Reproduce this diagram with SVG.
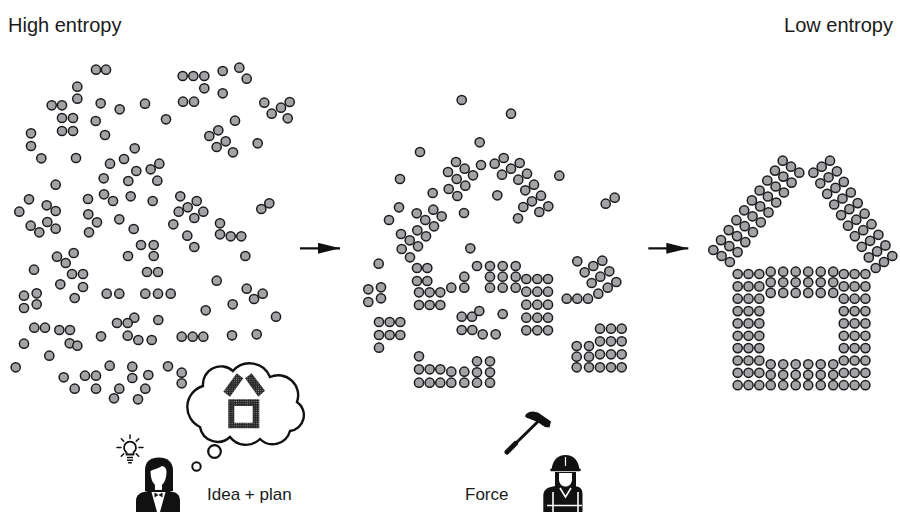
<svg xmlns="http://www.w3.org/2000/svg" xmlns:xlink="http://www.w3.org/1999/xlink" width="900" height="512" viewBox="0 0 900 512">
<style>
.d{fill:#a3a3a7;stroke:#1c1c1c;stroke-width:1.5}
.t{font-family:"Liberation Sans",Arial,sans-serif;fill:#1a1a1a}
.title{font-size:20px}
.lbl{font-size:17px}
.ink{fill:#111}
.arrow{stroke:#111;stroke-width:2.2;fill:none}
</style>
<defs>
  <circle id="p" class="d" r="4.6"/>
  <g id="h3"><use href="#p" x="0"/><use href="#p" x="10.8"/><use href="#p" x="21.6"/></g>
  <g id="h6"><use href="#p" x="0"/><use href="#p" x="12.5"/><use href="#p" x="25"/><use href="#p" x="37.5"/><use href="#p" x="50"/><use href="#p" x="62.5"/></g>
  <g id="rl"><use href="#p" x="0" y="0"/><use href="#p" x="8.3" y="6"/><use href="#p" x="16.6" y="12"/></g>
  <g id="rr"><use href="#p" x="0" y="0"/><use href="#p" x="-8.3" y="6"/><use href="#p" x="-16.6" y="12"/></g>
  <pattern id="grain" width="2.2" height="2.2" patternUnits="userSpaceOnUse">
    <rect width="2.2" height="2.2" fill="#262626"/>
    <circle cx="1.1" cy="1.1" r="0.55" fill="#8a8a8a"/>
  </pattern>
  <marker id="head" markerUnits="userSpaceOnUse" markerWidth="22" markerHeight="11" refX="22" refY="5.5" orient="auto">
    <path d="M0,0 L22,5.5 L0,11 Z" fill="#111"/>
  </marker>
</defs>

<!-- headings -->
<g id="title-high"><text class="t title" x="8" y="32">High entropy</text></g>
<g id="title-low"><text class="t title" x="893" y="32" text-anchor="end">Low entropy</text></g>

<!-- scattered particles -->
<g id="disorder">
<use href="#p" x="96" y="69.7"/><use href="#p" x="106" y="69.7"/><use href="#p" x="182.7" y="76"/><use href="#p" x="193.3" y="76"/><use href="#p" x="204.3" y="76"/>
<use href="#p" x="222.7" y="71"/><use href="#p" x="239.3" y="67.7"/><use href="#p" x="246.7" y="78.7"/><use href="#p" x="77.3" y="86.7"/><use href="#p" x="204.3" y="88.3"/>
<use href="#p" x="222.7" y="93.3"/><use href="#p" x="77.3" y="98.7"/><use href="#p" x="51.7" y="105.3"/><use href="#p" x="62" y="105.3"/><use href="#p" x="100.7" y="103.3"/>
<use href="#p" x="119.7" y="109.3"/><use href="#p" x="145" y="103.7"/><use href="#p" x="183" y="101.7"/><use href="#p" x="194" y="101.7"/><use href="#p" x="264.3" y="102.7"/>
<use href="#p" x="281" y="107.7"/><use href="#p" x="289.7" y="102"/><use href="#p" x="271.7" y="113.7"/><use href="#p" x="287.7" y="118.3"/><use href="#p" x="62" y="118"/>
<use href="#p" x="73" y="118"/><use href="#p" x="95.7" y="121"/><use href="#p" x="166" y="119.3"/><use href="#p" x="235" y="120.7"/><use href="#p" x="62" y="131"/>
<use href="#p" x="73" y="131"/><use href="#p" x="31" y="133.3"/><use href="#p" x="105" y="135"/><use href="#p" x="218.3" y="130.3"/><use href="#p" x="209.3" y="136"/>
<use href="#p" x="225.7" y="141.3"/><use href="#p" x="216.7" y="147"/><use href="#p" x="233" y="152.3"/><use href="#p" x="257.7" y="143.3"/><use href="#p" x="31" y="146"/>
<use href="#p" x="41.3" y="158.3"/><use href="#p" x="76" y="158"/><use href="#p" x="134.7" y="148.3"/><use href="#p" x="124" y="159"/><use href="#p" x="110" y="163.7"/>
<use href="#p" x="136.3" y="171"/><use href="#p" x="150.7" y="169.3"/><use href="#p" x="159.3" y="163.7"/><use href="#p" x="103.7" y="178.3"/><use href="#p" x="128.3" y="181"/>
<use href="#p" x="157.3" y="180.7"/><use href="#p" x="55.7" y="184.7"/><use href="#p" x="29" y="199.3"/><use href="#p" x="46.7" y="205.3"/><use href="#p" x="55.7" y="211"/>
<use href="#p" x="19.3" y="211.7"/><use href="#p" x="88" y="199"/><use href="#p" x="104" y="194.3"/><use href="#p" x="113" y="201"/><use href="#p" x="130.7" y="196.3"/>
<use href="#p" x="152.7" y="201"/><use href="#p" x="180.3" y="196.3"/><use href="#p" x="196.7" y="201"/><use href="#p" x="187.7" y="207.3"/><use href="#p" x="178.7" y="211.7"/>
<use href="#p" x="203.3" y="211.7"/><use href="#p" x="269.3" y="203.3"/><use href="#p" x="261.3" y="209"/><use href="#p" x="88.3" y="214.3"/>
<use href="#p" x="30.7" y="225.7"/><use href="#p" x="39.3" y="232.3"/><use href="#p" x="47.3" y="222"/><use href="#p" x="55.7" y="228.7"/><use href="#p" x="97" y="222.3"/>
<use href="#p" x="89" y="232.3"/><use href="#p" x="119.3" y="219.3"/><use href="#p" x="133.7" y="229"/><use href="#p" x="173.3" y="224.3"/><use href="#p" x="194.3" y="218"/>
<use href="#p" x="187.3" y="235.7"/><use href="#p" x="194.3" y="247"/><use href="#p" x="220" y="223.3"/><use href="#p" x="220" y="234.3"/><use href="#p" x="230.7" y="236.3"/>
<use href="#p" x="241.3" y="236.3"/><use href="#p" x="141" y="245"/><use href="#p" x="153.7" y="245"/><use href="#p" x="153.7" y="256"/><use href="#p" x="128" y="256"/>
<use href="#p" x="57" y="256.7"/><use href="#p" x="73.7" y="253"/><use href="#p" x="65.7" y="263"/><use href="#p" x="245.3" y="256"/><use href="#p" x="34" y="269.7"/>
<use href="#p" x="72" y="274"/><use href="#p" x="83" y="274"/><use href="#p" x="83" y="287"/><use href="#p" x="74.7" y="298"/><use href="#p" x="60.3" y="284.3"/>
<use href="#p" x="147" y="272"/><use href="#p" x="158" y="272"/><use href="#p" x="216.7" y="280.7"/><use href="#p" x="24" y="295.7"/><use href="#p" x="36.7" y="293.3"/>
<use href="#p" x="36.7" y="304.3"/><use href="#p" x="24" y="308"/><use href="#p" x="106.7" y="293.7"/><use href="#p" x="119.3" y="293.7"/><use href="#p" x="145.3" y="293.7"/>
<use href="#p" x="158" y="293.7"/><use href="#p" x="170.7" y="293.7"/><use href="#p" x="246.7" y="288.7"/><use href="#p" x="262.7" y="293.7"/><use href="#p" x="254" y="299"/>
<use href="#p" x="232.7" y="304.3"/><use href="#p" x="205.7" y="310.3"/><use href="#p" x="276" y="316.7"/><use href="#p" x="134.3" y="317.7"/><use href="#p" x="127.7" y="323"/>
<use href="#p" x="117" y="323"/><use href="#p" x="158.3" y="320"/><use href="#p" x="34.3" y="327.7"/><use href="#p" x="45" y="327.7"/><use href="#p" x="59.3" y="330"/>
<use href="#p" x="70" y="330"/><use href="#p" x="69.7" y="343.3"/><use href="#p" x="77.3" y="345.7"/><use href="#p" x="101" y="336.3"/><use href="#p" x="127.7" y="335.7"/>
<use href="#p" x="138.3" y="340"/><use href="#p" x="151.7" y="340"/><use href="#p" x="181.7" y="336.7"/><use href="#p" x="192.7" y="336.7"/><use href="#p" x="203.3" y="336.7"/>
<use href="#p" x="232" y="335.3"/><use href="#p" x="256.7" y="334.3"/><use href="#p" x="24" y="343.7"/><use href="#p" x="49.3" y="355.7"/><use href="#p" x="15.7" y="367.3"/>
<use href="#p" x="109.7" y="365.7"/><use href="#p" x="132.3" y="366.7"/><use href="#p" x="132.3" y="378"/><use href="#p" x="168" y="366.3"/><use href="#p" x="181.7" y="372.7"/>
<use href="#p" x="181.7" y="383.3"/><use href="#p" x="148.3" y="375"/><use href="#p" x="63.7" y="377.3"/><use href="#p" x="85" y="375.7"/><use href="#p" x="96" y="375.7"/>
<use href="#p" x="74.7" y="388.7"/><use href="#p" x="96" y="388.7"/><use href="#p" x="119.3" y="388.7"/><use href="#p" x="145.3" y="388.7"/><use href="#p" x="114" y="398.3"/>
<use href="#p" x="138" y="399.3"/>
</g>

<!-- person with an idea and a plan -->
<g id="thinker">
  <path d="M200,427 A22,22 0 0 1 203,386 A18,18 0 0 1 233,371 A22,22 0 0 1 270,377 A20,20 0 0 1 297,402 A16,16 0 0 1 290,431 A18,18 0 0 1 260,439 A20,20 0 0 1 230,437 A18,18 0 0 1 200,427 Z" fill="#fff" stroke="#111" stroke-width="2.4"/>
  <polygon points="223.3,391.7 230,396.7 243.3,378.3 236.7,373.3" fill="url(#grain)"/>
  <polygon points="245,378.3 251.7,373.3 265,390.7 258.3,396.7" fill="url(#grain)"/>
  <path d="M228.3,399.3 H259.3 V428.3 H228.3 Z M234.3,406 V422.7 H252.7 V406 Z" fill="url(#grain)" fill-rule="evenodd"/>
  <circle cx="214.5" cy="451.5" r="6.3" fill="#fff" stroke="#111" stroke-width="2.2"/>
  <circle cx="196.5" cy="466.5" r="4.2" fill="#fff" stroke="#111" stroke-width="2"/>
  <!-- light bulb -->
  <path d="M126.5,454.5 V452.5 A6,6 0 1 1 133.5,452.5 V454.5 Z" fill="#fff" stroke="#111" stroke-width="1.8" stroke-linejoin="round"/>
  <path d="M127,457.6 H133 M127,460.2 H133 M128.2,462.8 H131.8" stroke="#111" stroke-width="1.5"/>
  <g stroke="#111" stroke-width="1.5" stroke-linecap="round">
    <line x1="130" y1="438.5" x2="130" y2="435"/>
    <line x1="121" y1="447.5" x2="117" y2="447.5"/>
    <line x1="139" y1="447.5" x2="143" y2="447.5"/>
    <line x1="123.8" y1="441.3" x2="121.3" y2="438.8"/>
    <line x1="136.2" y1="441.3" x2="138.7" y2="438.8"/>
    <line x1="123.8" y1="453.7" x2="121.3" y2="456.2"/>
    <line x1="136.2" y1="453.7" x2="138.7" y2="456.2"/>
  </g>
  <!-- woman -->
  <path d="M145,491 V470 C145,461 151,457.5 159,457.5 C167,457.5 173,462 173,470 V491 Z" class="ink"/>
  <path d="M136,512 V501 C136,495 140,492.5 146,491.5 L153,489.5 H164 L171,491.5 C177,492.5 180,495 180,501 V512 Z" class="ink"/>
  <rect x="154.3" y="481" width="8.4" height="9.5" fill="#fff" stroke="#111" stroke-width="1.2"/>
  <path d="M150.5,471 C150.5,480.5 154,486 158.5,486 C163,486 166.5,480.5 166.5,471.5 C166.5,468 164.5,466.5 162,466 C158.5,468.5 154,469 150.5,471 Z" fill="#fff"/>
  <path d="M151.5,492 H165.5 L160,512 H157 Z" fill="#fff"/>
  <path d="M154.5,492.5 L158.5,495 L162.5,492.5 V497.5 L158.5,495 L154.5,497.5 Z" class="ink"/>
  <text class="t lbl" x="207" y="499.5">Idea + plan</text>
</g>

<!-- particles partly ordered -->
<g id="partial">
<use href="#p" x="461.7" y="100"/><use href="#p" x="511" y="113.7"/><use href="#p" x="479.7" y="142.3"/><use href="#p" x="420" y="152"/><use href="#p" x="559.3" y="175.7"/>
<use href="#p" x="400" y="179"/><use href="#p" x="456" y="162"/><use href="#p" x="464.7" y="168.7"/><use href="#p" x="473" y="175.3"/><use href="#p" x="448" y="172"/>
<use href="#p" x="456.7" y="179"/><use href="#p" x="465.3" y="185.7"/><use href="#p" x="448.7" y="189"/><use href="#p" x="457.3" y="196"/><use href="#p" x="481" y="165"/>
<use href="#p" x="494.7" y="163.7"/><use href="#p" x="503.7" y="158"/><use href="#p" x="511" y="168.7"/><use href="#p" x="519.7" y="163"/><use href="#p" x="502" y="174.7"/>
<use href="#p" x="518.3" y="179.7"/><use href="#p" x="527" y="173.7"/><use href="#p" x="525.3" y="190.3"/><use href="#p" x="534" y="184.7"/><use href="#p" x="532" y="201.3"/>
<use href="#p" x="541" y="195.7"/><use href="#p" x="523.3" y="207"/><use href="#p" x="539.3" y="212"/><use href="#p" x="548.3" y="206.3"/><use href="#p" x="518" y="218.3"/>
<use href="#p" x="497.3" y="195.3"/><use href="#p" x="464" y="213"/><use href="#p" x="432.7" y="193"/><use href="#p" x="399" y="207.3"/><use href="#p" x="389" y="220"/>
<use href="#p" x="416.7" y="213.3"/><use href="#p" x="425.3" y="220"/><use href="#p" x="433.3" y="209.7"/><use href="#p" x="441.7" y="216.3"/><use href="#p" x="434" y="226.3"/>
<use href="#p" x="417.3" y="230.3"/><use href="#p" x="426" y="236.3"/><use href="#p" x="401" y="234"/><use href="#p" x="409.7" y="240.3"/><use href="#p" x="418" y="246.3"/>
<use href="#p" x="401.7" y="249"/><use href="#p" x="470.3" y="248.3"/><use href="#p" x="605.7" y="203.7"/><use href="#p" x="614.7" y="197.7"/>
<use href="#p" x="410" y="257.3"/><use href="#p" x="378.7" y="263.7"/><use href="#p" x="417" y="268"/><use href="#p" x="427.3" y="268"/><use href="#p" x="417" y="281"/>
<use href="#p" x="427.3" y="281"/><use href="#p" x="419" y="292.3"/><use href="#p" x="429.7" y="292.3"/><use href="#p" x="440.3" y="292.3"/><use href="#p" x="419" y="305"/>
<use href="#p" x="429.7" y="305"/><use href="#p" x="440.3" y="305"/><use href="#p" x="451.3" y="287.7"/><use href="#p" x="464.3" y="276.7"/><use href="#p" x="464.3" y="287.7"/>
<use href="#p" x="477" y="266"/><use href="#p" x="490" y="266"/><use href="#p" x="502.7" y="266"/><use href="#p" x="515.7" y="266"/><use href="#p" x="490" y="276.7"/>
<use href="#p" x="502.7" y="276.7"/><use href="#p" x="515.7" y="276.7"/><use href="#p" x="490" y="287.7"/><use href="#p" x="502.7" y="287.7"/><use href="#p" x="515.7" y="287.7"/>
<use href="#p" x="526.3" y="279"/><use href="#p" x="537.3" y="279"/><use href="#p" x="548" y="279"/><use href="#p" x="526.3" y="291.7"/><use href="#p" x="537.3" y="291.7"/>
<use href="#p" x="548" y="291.7"/><use href="#p" x="526.3" y="304.7"/><use href="#p" x="537.3" y="304.7"/><use href="#p" x="548" y="304.7"/><use href="#p" x="526.3" y="317.7"/>
<use href="#p" x="537.3" y="317.7"/><use href="#p" x="548" y="317.7"/><use href="#p" x="526.3" y="330.3"/><use href="#p" x="537.3" y="330.3"/><use href="#p" x="548" y="330.3"/>
<use href="#p" x="368.3" y="289.3"/><use href="#p" x="381" y="287.3"/><use href="#p" x="368.3" y="302"/><use href="#p" x="381" y="298.3"/><use href="#p" x="379" y="322"/>
<use href="#p" x="389.7" y="322"/><use href="#p" x="400.3" y="322"/><use href="#p" x="379" y="335"/><use href="#p" x="389.7" y="335"/><use href="#p" x="400.3" y="335"/>
<use href="#p" x="379" y="347.7"/><use href="#p" x="461.7" y="316.7"/><use href="#p" x="472" y="316.7"/><use href="#p" x="479.3" y="311"/><use href="#p" x="502.7" y="314"/>
<use href="#p" x="461.7" y="330"/><use href="#p" x="472.3" y="330"/><use href="#p" x="482.7" y="334.3"/><use href="#p" x="495.7" y="334.3"/><use href="#p" x="419" y="356.3"/>
<use href="#p" x="419" y="369.3"/><use href="#p" x="429.7" y="369.3"/><use href="#p" x="440.3" y="369.3"/><use href="#p" x="451.3" y="371.7"/><use href="#p" x="464.3" y="371.7"/>
<use href="#p" x="477" y="361.3"/><use href="#p" x="490" y="361.3"/><use href="#p" x="477" y="372.3"/><use href="#p" x="490" y="372.3"/><use href="#p" x="419" y="382.7"/>
<use href="#p" x="429.7" y="382.7"/><use href="#p" x="440.3" y="382.7"/><use href="#p" x="451.3" y="382.7"/><use href="#p" x="464.3" y="382.7"/><use href="#p" x="477" y="382.7"/>
<use href="#p" x="490" y="382.7"/>
<use href="#p" x="577.3" y="261.3"/><use href="#p" x="593.3" y="266"/><use href="#p" x="602.3" y="260.7"/><use href="#p" x="584.7" y="272.3"/><use href="#p" x="600.3" y="276.7"/>
<use href="#p" x="609.3" y="271.3"/><use href="#p" x="591.7" y="283"/><use href="#p" x="607.7" y="287.7"/><use href="#p" x="616.3" y="282"/><use href="#p" x="598.3" y="293.7"/>
<use href="#p" x="566.7" y="298.7"/><use href="#p" x="577.3" y="298.7"/><use href="#p" x="588" y="298.7"/>
<use href="#p" x="600" y="328.7"/><use href="#p" x="611" y="328.7"/><use href="#p" x="621.7" y="328.7"/><use href="#p" x="600" y="341.3"/><use href="#p" x="611" y="341.3"/>
<use href="#p" x="621.7" y="341.3"/><use href="#p" x="576.7" y="346"/><use href="#p" x="589" y="346"/><use href="#p" x="576.7" y="356.7"/><use href="#p" x="589" y="356.7"/>
<use href="#p" x="600" y="354.3"/><use href="#p" x="611" y="354.3"/><use href="#p" x="621.7" y="354.3"/><use href="#p" x="576.7" y="367.3"/><use href="#p" x="589" y="367.3"/>
<use href="#p" x="600" y="367.3"/><use href="#p" x="611" y="367.3"/><use href="#p" x="621.7" y="367.3"/>
</g>

<!-- worker with hammer -->
<g id="builder">
  <line x1="538" y1="421.5" x2="512" y2="447" stroke="#111" stroke-width="3"/>
  <line x1="515.5" y1="443.5" x2="507" y2="452" stroke="#111" stroke-width="5" stroke-linecap="round"/>
  <path d="M525,416 C526,413 529,411.5 533,411.5 L538,412.5 L551,421.5 L549.5,427.5 L545,427 L537.5,422 L530,419 C528,418 526.5,418.5 525,416 Z" class="ink"/>
  <path d="M543.3,512 V496 C543.3,490 547,487.5 553,486.5 L559,485 H572 L577,486.5 C582,487.5 582.5,491 582.5,496 V512 Z" class="ink"/>
  <path d="M555,487 V472 H576 V487 Z" class="ink"/>
  <path d="M559,473 H572 V479 C572,484 569,486.5 565.5,486.5 C562,486.5 559,484 559,479 Z" fill="#fff"/>
  <path d="M551.7,469.5 C552,461 557.5,455 565.5,455 C573.5,455 579,461 579.3,469.5 Z" class="ink"/>
  <rect x="550.3" y="468.6" width="30.4" height="2.6" rx="1" class="ink"/>
  <line x1="565.5" y1="457" x2="565.5" y2="466" stroke="#fff" stroke-width="1.2"/>
  <path d="M560,488 L565.5,497 L571,488" fill="none" stroke="#fff" stroke-width="1.6"/>
  <path d="M553,492 V512 M578,492 V512 M547,505.5 H582" fill="none" stroke="#fff" stroke-width="1.6"/>
  <text class="t lbl" x="465" y="500">Force</text>
</g>

<!-- particles assembled into a house -->
<g id="house">
  <use href="#rl" x="782.7" y="160.7"/><use href="#rl" x="775" y="170.6"/><use href="#rl" x="767.3" y="180.5"/><use href="#rl" x="759.6" y="190.5"/><use href="#rl" x="751.9" y="200.4"/>
  <use href="#rl" x="744.2" y="210.3"/><use href="#rl" x="736.4" y="220.2"/><use href="#rl" x="728.7" y="230.1"/><use href="#rl" x="721" y="240.1"/><use href="#rl" x="713.3" y="250"/>
  <use href="#rr" x="830" y="160.7"/><use href="#rr" x="836.9" y="171.3"/><use href="#rr" x="843.8" y="181.9"/><use href="#rr" x="850.8" y="192.5"/><use href="#rr" x="857.7" y="203.1"/>
  <use href="#rr" x="864.6" y="213.7"/><use href="#rr" x="871.5" y="224.2"/><use href="#rr" x="878.4" y="234.8"/><use href="#rr" x="885.4" y="245.4"/><use href="#rr" x="892.3" y="256"/>
  <use href="#h3" x="737.7" y="274"/><use href="#h3" x="737.7" y="286.4"/><use href="#h3" x="737.7" y="298.7"/><use href="#h3" x="737.7" y="311.1"/><use href="#h3" x="737.7" y="323.4"/>
  <use href="#h3" x="737.7" y="335.8"/><use href="#h3" x="737.7" y="348.1"/><use href="#h3" x="737.7" y="360.5"/><use href="#h3" x="737.7" y="372.8"/><use href="#h3" x="737.7" y="385.2"/>
  <use href="#h3" x="843.8" y="274"/><use href="#h3" x="843.8" y="286.4"/><use href="#h3" x="843.8" y="298.7"/><use href="#h3" x="843.8" y="311.1"/><use href="#h3" x="843.8" y="323.4"/>
  <use href="#h3" x="843.8" y="335.8"/><use href="#h3" x="843.8" y="348.1"/><use href="#h3" x="843.8" y="360.5"/><use href="#h3" x="843.8" y="372.8"/><use href="#h3" x="843.8" y="385.2"/>
  <use href="#h6" x="770.7" y="271.7"/><use href="#h6" x="770.7" y="282.3"/><use href="#h6" x="770.7" y="292.9"/>
  <use href="#h6" x="770.7" y="364.3"/><use href="#h6" x="770.7" y="374.8"/><use href="#h6" x="770.7" y="385.2"/>
</g>

<g id="connectors">
  <line class="arrow" x1="300" y1="248.3" x2="340" y2="248.3" marker-end="url(#head)"/>
  <line class="arrow" x1="648.3" y1="248.3" x2="688.3" y2="248.3" marker-end="url(#head)"/>
</g>
</svg>
